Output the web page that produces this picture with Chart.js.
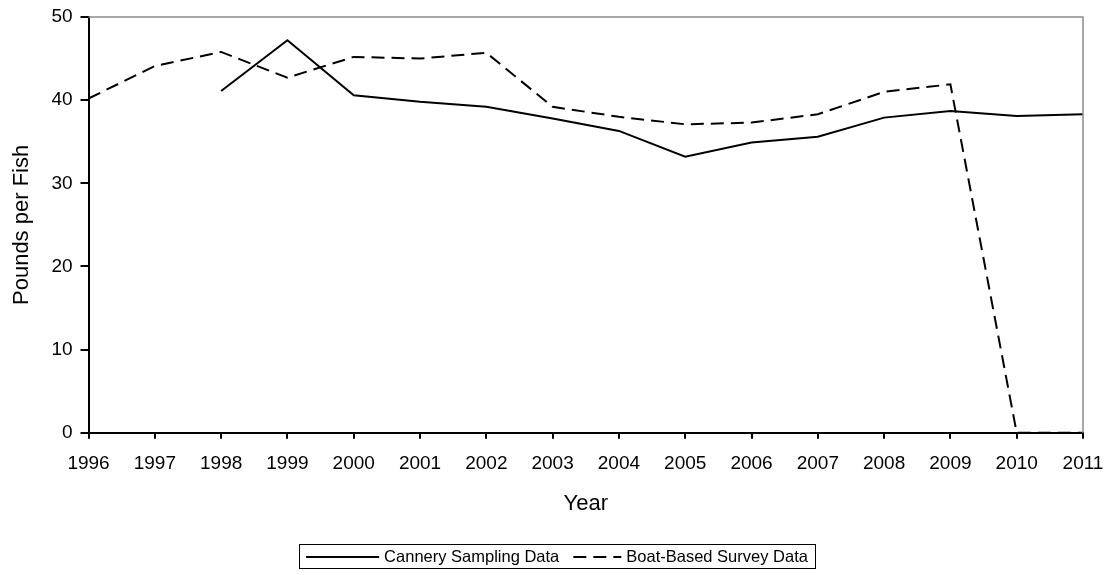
<!DOCTYPE html>
<html>
<head>
<meta charset="utf-8">
<script src="https://cdn.jsdelivr.net/npm/chart.js@4.4.1/dist/chart.umd.min.js"></script>
<style>
  html, body { margin: 0; padding: 0; background: #fff; }
  #wrap { width: 1110px; height: 575px; }
</style>
</head>
<body>
<div id="wrap"><canvas id="chart"></canvas></div>
<script>
// данные с картинки
const years = ['1996','1997','1998','1999','2000','2001','2002','2003','2004','2005','2006','2007','2008','2009','2010','2011'];
const cannery = [null, null, 41.1, 47.2, 40.6, 39.8, 39.2, 37.8, 36.3, 33.2, 34.9, 35.6, 37.9, 38.7, 38.1, 38.3];
const boat = [40.2, 44.1, 45.8, 42.7, 45.2, 45.0, 45.7, 39.2, 38.0, 37.1, 37.3, 38.3, 41.0, 41.9, 0, 0];
const yTicks = [0, 10, 20, 30, 40, 50];

const FONT = 'Arial, "Liberation Sans", sans-serif';

// рамка сверху/справа и легенда в рамке
const framePlugin = {
    id: 'frame',
    afterDraw(chart) {
        const { ctx, chartArea: a } = chart;
        ctx.save();
        ctx.strokeStyle = '#8c8c8c';
        ctx.lineWidth = 1.5;
        ctx.beginPath();
        ctx.moveTo(a.left, a.top);
        ctx.lineTo(a.right, a.top);
        ctx.lineTo(a.right, a.bottom);
        ctx.stroke();

        // легенда
        ctx.font = '16.5px ' + FONT;
        ctx.textBaseline = 'middle';
        const items = chart.data.datasets.map(ds => ({
            label: ds.label,
            dash: ds.borderDash || [],
            w: ctx.measureText(ds.label).width
        }));
        const sample = [73, 48];
        const gap = 5, pad = 7, between = 14;
        let total = pad * 2;
        items.forEach((it, i) => { total += sample[i] + gap + it.w + (i ? between : 0); });
        const cx = 557, cy = 556, h = 24;
        let x = cx - total / 2;
        ctx.strokeStyle = '#000';
        ctx.lineWidth = 1;
        ctx.setLineDash([]);
        ctx.strokeRect(Math.round(x) + 0.5, cy - h / 2 + 0.5, Math.round(total), h);
        x += pad;
        items.forEach((it, i) => {
            if (i) x += between;
            ctx.beginPath();
            ctx.setLineDash(it.dash);
            ctx.lineWidth = 2;
            ctx.moveTo(x, cy + 1);
            ctx.lineTo(x + sample[i], cy + 1);
            ctx.stroke();
            ctx.setLineDash([]);
            x += sample[i] + gap;
            ctx.fillStyle = '#000';
            ctx.fillText(it.label, x, cy + 1);
            x += it.w;
        });
        ctx.restore();
    }
};

new Chart(document.getElementById('chart'), {
    type: 'line',
    data: {
        labels: years,
        datasets: [{
            label: 'Cannery Sampling Data',
            data: cannery,
            borderColor: '#000',
            borderWidth: 2,
            pointRadius: 0,
            tension: 0,
            fill: false
        }, {
            label: 'Boat-Based Survey Data',
            data: boat,
            borderColor: '#000',
            borderWidth: 2,
            borderDash: [13, 7],
            pointRadius: 0,
            tension: 0,
            fill: false,
            clip: false
        }]
    },
    options: {
        responsive: true,
        maintainAspectRatio: false,
        animation: false,
        layout: { padding: { left: 9, right: 27, top: 17, bottom: 58 } },
        plugins: {
            legend: { display: false },
            tooltip: { enabled: false }
        },
        scales: {
            x: {
                offset: false,
                afterFit(scale) { scale.paddingRight = 0; },
                grid: { drawOnChartArea: false, color: '#000', tickLength: 6, lineWidth: 2 },
                border: { color: '#000', width: 2 },
                ticks: { color: '#000', font: { family: FONT, size: 19 }, padding: 14, maxRotation: 0, autoSkip: false },
                title: { display: true, text: 'Year', color: '#000', font: { family: FONT, size: 22 }, padding: { top: 1, bottom: 0 } }
            },
            y: {
                min: 0,
                max: 50,
                afterBuildTicks(scale) { scale.ticks = yTicks.map(v => ({ value: v })); },
                afterFit(scale) { scale.paddingTop = 0; },
                grid: { drawOnChartArea: false, color: '#000', tickLength: 8, lineWidth: 2 },
                border: { color: '#000', width: 2 },
                ticks: { color: '#000', font: { family: FONT, size: 19 }, padding: 8 },
                title: { display: true, text: 'Pounds per Fish', color: '#000', font: { family: FONT, size: 22 }, padding: { top: 0, bottom: 8 } }
            }
        }
    },
    plugins: [framePlugin]
});
</script>
</body>
</html>
